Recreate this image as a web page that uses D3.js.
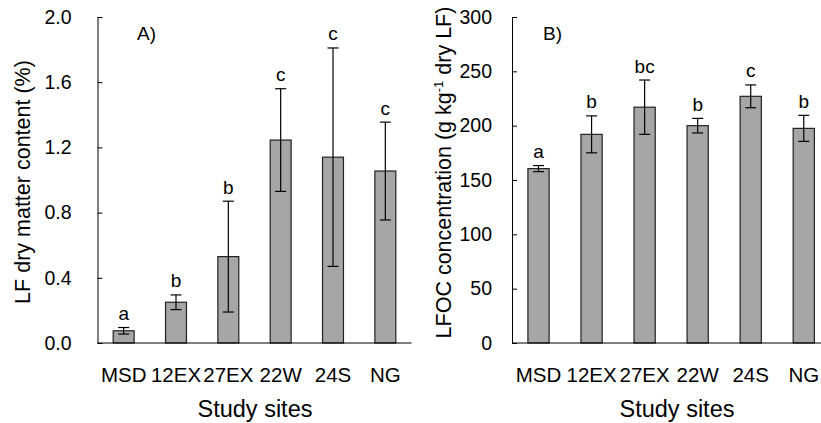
<!DOCTYPE html>
<html>
<head>
<meta charset="utf-8">
<script src="https://cdn.jsdelivr.net/npm/d3@7"></script>
<style>
  html, body { margin: 0; padding: 0; background: #fff; }
  svg { display: block; font-family: "Liberation Sans", Arial, sans-serif; }
</style>
</head>
<body>
<svg id="chart" width="821" height="423"></svg>
<script>
// ---- data ----
const sites = ["MSD", "12EX", "27EX", "22W", "24S", "NG"];

const lfMean = [0.075, 0.25, 0.53, 1.245, 1.14, 1.055];
const lfErr  = [0.02, 0.045, 0.34, 0.315, 0.67, 0.30];
const lfLetters = ["a", "b", "b", "c", "c", "c"];
const lfTicks = [0, 0.4, 0.8, 1.2, 1.6, 2.0];

const ocMean = [160.5, 192, 217, 200, 227, 197.5];
const ocErr  = [2.8, 17, 25, 6.7, 10.5, 12];
const ocLetters = ["a", "b", "bc", "b", "c", "b"];
const ocTicks = [0, 50, 100, 150, 200, 250, 300];

const svg = d3.select("#chart");

function panel(opts) {
  const g = svg.append("g");
  const x = d3.scaleBand().domain(sites).range([opts.x0, opts.x1])
    .paddingInner(0.6).paddingOuter(0.3);
  const y = d3.scaleLinear().domain(opts.domain).range([343, 17]);

  // y axis
  const yAxis = d3.axisLeft(y).tickValues(opts.ticks).tickFormat(opts.fmt)
    .tickSizeInner(-5).tickSizeOuter(0).tickPadding(opts.tickPad);
  const ya = g.append("g").attr("transform", `translate(${opts.x0},0)`).call(yAxis);
  ya.selectAll("text").attr("font-size", 19.5).attr("fill", "#000")
    .attr("font-family", "Liberation Sans, Arial, sans-serif");
  ya.selectAll("line, path").attr("stroke", "#000");

  // bars
  g.selectAll("rect.bar").data(sites).enter().append("rect")
    .attr("x", d => x(d))
    .attr("width", x.bandwidth())
    .attr("y", (d, i) => y(opts.mean[i]))
    .attr("height", (d, i) => y(0) - y(opts.mean[i]))
    .attr("fill", "#a6a6a6")
    .attr("stroke", "#222")
    .attr("stroke-width", 1.2);

  // error bars
  const cx = d => x(d) + x.bandwidth() / 2;
  const eb = g.selectAll("g.err").data(sites).enter().append("g");
  eb.append("line")
    .attr("x1", cx).attr("x2", cx)
    .attr("y1", (d, i) => y(opts.mean[i] + opts.err[i]))
    .attr("y2", (d, i) => y(opts.mean[i] - opts.err[i]))
    .attr("stroke", "#000").attr("stroke-width", 1.2);
  [1, -1].forEach(s => {
    eb.append("line")
      .attr("x1", d => cx(d) - 5.5).attr("x2", d => cx(d) + 5.5)
      .attr("y1", (d, i) => y(opts.mean[i] + s * opts.err[i]))
      .attr("y2", (d, i) => y(opts.mean[i] + s * opts.err[i]))
      .attr("stroke", "#000").attr("stroke-width", 1.2);
  });

  // significance letters
  g.selectAll("text.letter").data(sites).enter().append("text")
    .attr("x", cx)
    .attr("y", (d, i) => y(opts.mean[i] + opts.err[i]) - 7.5)
    .attr("text-anchor", "middle")
    .attr("font-size", 19)
    .text((d, i) => opts.letters[i]);

  // x axis
  g.append("line").attr("x1", opts.x0).attr("x2", opts.x1)
    .attr("y1", y(0)).attr("y2", y(0)).attr("stroke", "#000");
  g.selectAll("text.xt").data(sites).enter().append("text")
    .attr("x", cx).attr("y", 381.5)
    .attr("text-anchor", "middle").attr("font-size", 20.5)
    .text(d => d);

  // x title
  g.append("text").attr("x", opts.xTitleX).attr("y", 417)
    .attr("text-anchor", "middle").attr("font-size", 23.5)
    .text("Study sites");

  // panel label
  g.append("text").attr("x", opts.labX).attr("y", 40)
    .attr("font-size", 19).text(opts.lab);

  return { g, x, y };
}

panel({
  x0: 97.5, x1: 411.5, domain: [0, 2.0], ticks: lfTicks, fmt: d3.format(".1f"),
  tickPad: 26, mean: lfMean, err: lfErr, letters: lfLetters,
  xTitleX: 255, labX: 137, lab: "A)"
});
panel({
  x0: 512, x1: 830.3, domain: [0, 300], ticks: ocTicks, fmt: d3.format("d"),
  tickPad: 20, mean: ocMean, err: ocErr, letters: ocLetters,
  xTitleX: 677, labX: 543, lab: "B)"
});

// y titles
svg.append("text")
  .attr("transform", "translate(30,182) rotate(-90)")
  .attr("text-anchor", "middle").attr("font-size", 21.5)
  .text("LF dry matter content (%)");

const tB = svg.append("text")
  .attr("transform", "translate(451,172.5) rotate(-90)")
  .attr("text-anchor", "middle").attr("font-size", 21.5);
tB.append("tspan").text("LFOC concentration (g kg");
tB.append("tspan").attr("font-size", 13).attr("dy", -8).text("-1");
tB.append("tspan").attr("dy", 8).text(" dry LF)");
</script>
</body>
</html>
